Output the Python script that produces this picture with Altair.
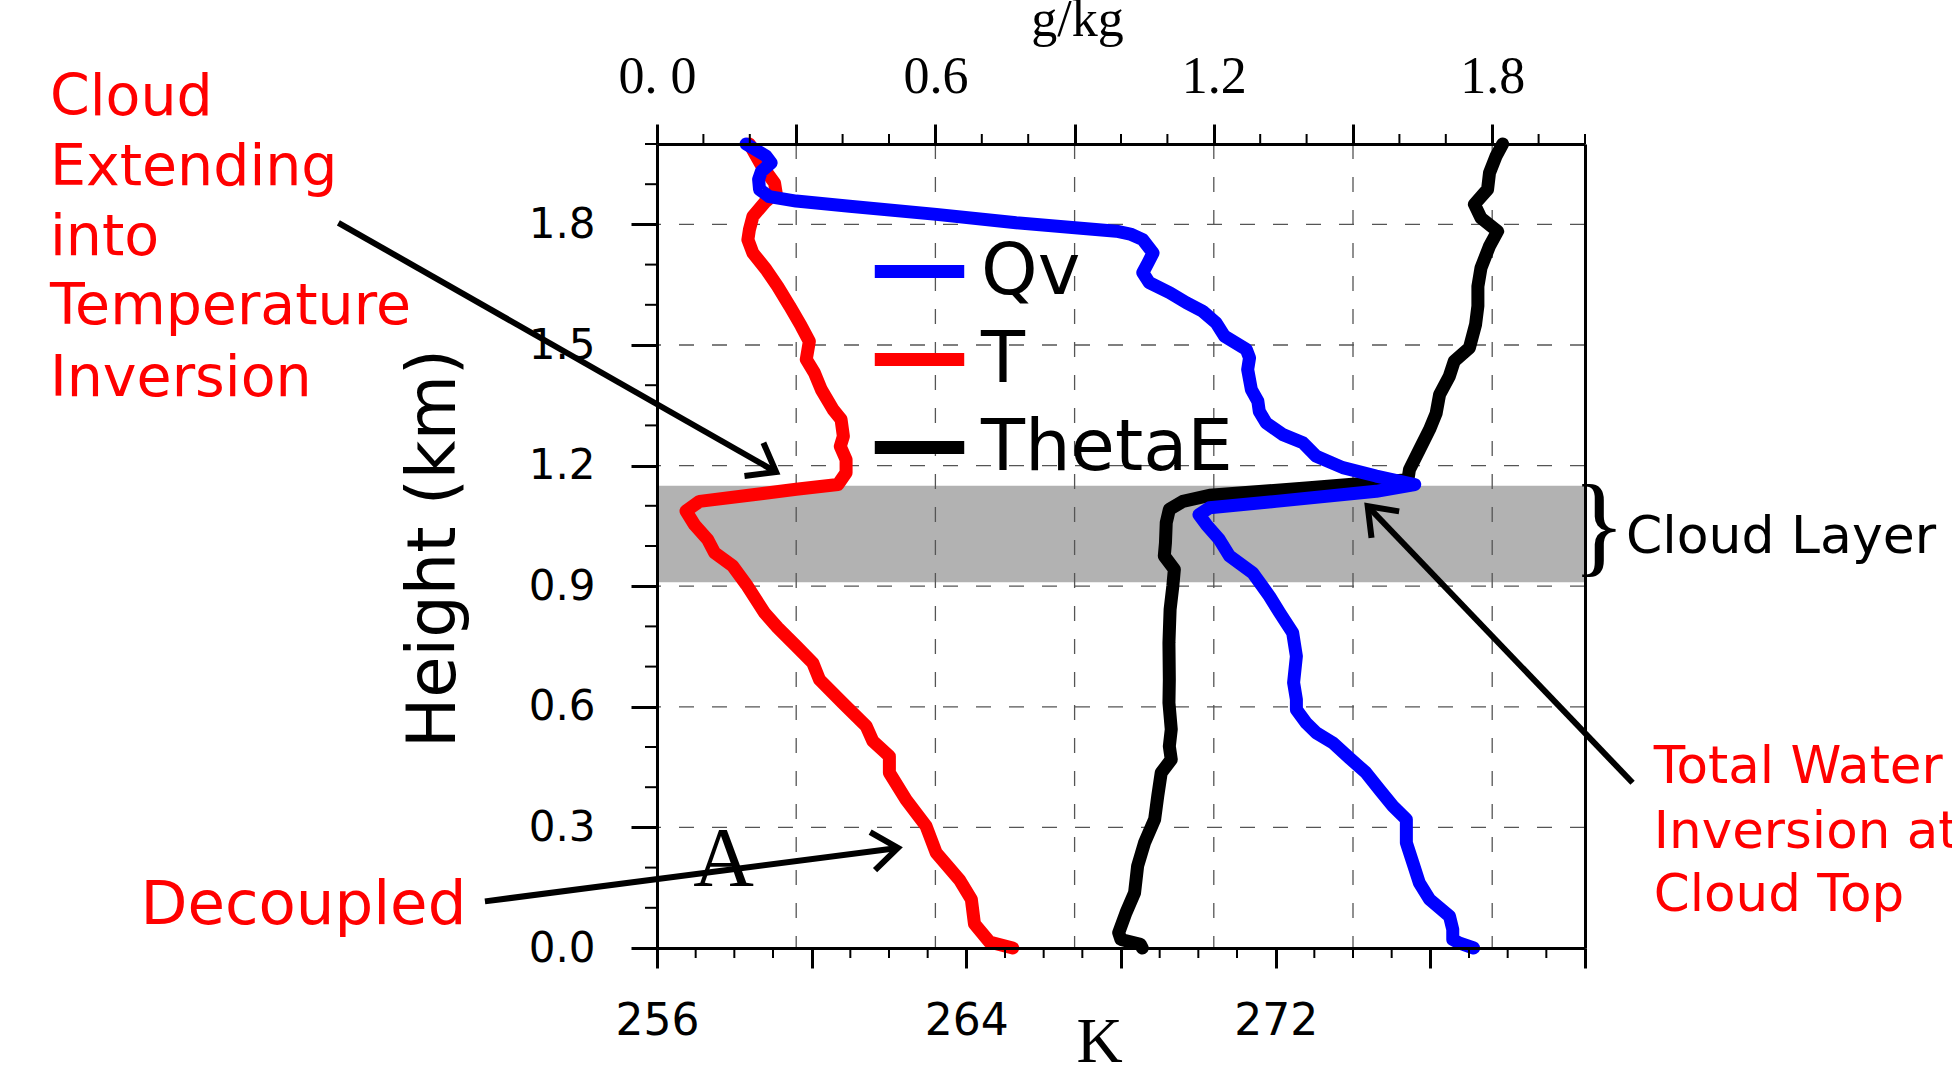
import math
import altair as alt
import pandas as pd

# ---------------- layout ----------------
W, H = 928, 804
K_DOMAIN = [256, 280]
G_DOMAIN = [0.0, 2.0]
KM_DOMAIN = [0.0, 2.0]

# ---------------- profiles ----------------
t_km = [0.000, 0.015, 0.060, 0.121, 0.170, 0.237, 0.303, 0.369, 0.436, 0.477,
        0.515, 0.552, 0.610, 0.668, 0.709, 0.751, 0.797, 0.834, 0.904, 0.950,
        0.983, 1.016, 1.053, 1.087, 1.111, 1.141, 1.153, 1.182, 1.215, 1.248,
        1.273, 1.315, 1.340, 1.389, 1.431, 1.464, 1.509, 1.547, 1.597, 1.646,
        1.688, 1.729, 1.762, 1.787, 1.820, 1.854, 1.879, 1.903, 1.949, 2.000]
t_K = [265.20, 264.60, 264.21, 264.13, 263.82, 263.22, 262.96, 262.44, 262.01, 262.01,
       261.58, 261.41, 260.80, 260.20, 260.03, 259.60, 259.12, 258.78, 258.31, 257.96,
       257.49, 257.31, 256.97, 256.75, 257.10, 259.60, 260.68, 260.89, 260.89, 260.74,
       260.82, 260.76, 260.55, 260.25, 260.07, 259.86, 259.94, 259.73, 259.43, 259.12,
       258.82, 258.48, 258.35, 258.39, 258.48, 258.78, 259.08, 259.04, 258.69, 258.39]

thetae_km = [0.000, 0.009, 0.021, 0.038, 0.088, 0.137, 0.204, 0.262, 0.320, 0.378,
             0.436, 0.469, 0.502, 0.544, 0.610, 0.668, 0.759, 0.842, 0.900, 0.942,
             0.975, 1.008, 1.058, 1.091, 1.111, 1.126, 1.145, 1.165, 1.190, 1.240,
             1.290, 1.330, 1.377, 1.422, 1.460, 1.493, 1.551, 1.597, 1.646, 1.692,
             1.746, 1.783, 1.816, 1.850, 1.887, 1.928, 1.970, 2.000]
thetae_K = [268.55, 268.50, 268.00, 267.94, 268.13, 268.35, 268.43, 268.61, 268.87, 268.95,
            269.04, 269.30, 269.25, 269.30, 269.24, 269.25, 269.24, 269.27, 269.34, 269.38,
            269.12, 269.15, 269.17, 269.25, 269.60, 270.29, 272.87, 275.42, 275.46, 275.72,
            275.98, 276.15, 276.24, 276.49, 276.62, 277.01, 277.17, 277.23, 277.23, 277.31,
            277.53, 277.74, 277.31, 277.14, 277.48, 277.53, 277.70, 277.87]

qv_km = [0.000, 0.012, 0.021, 0.046, 0.079, 0.121, 0.162, 0.212, 0.262, 0.320,
         0.353, 0.394, 0.436, 0.473, 0.510, 0.535, 0.560, 0.593, 0.618, 0.660,
         0.726, 0.784, 0.834, 0.875, 0.933, 0.975, 1.016, 1.053, 1.078, 1.095,
         1.111, 1.136, 1.153, 1.174, 1.195, 1.223, 1.257, 1.277, 1.306, 1.335,
         1.360, 1.389, 1.439, 1.468, 1.489, 1.522, 1.555, 1.584, 1.605, 1.630,
         1.655, 1.680, 1.704, 1.729, 1.762, 1.776, 1.783, 1.790, 1.804, 1.825,
         1.845, 1.858, 1.869, 1.887, 1.912, 1.932, 1.953, 1.970, 2.000]
qv_gkg = [1.760, 1.730, 1.715, 1.715, 1.708, 1.665, 1.643, 1.629, 1.615, 1.615,
          1.586, 1.557, 1.528, 1.492, 1.457, 1.421, 1.399, 1.378, 1.378, 1.372,
          1.378, 1.370, 1.342, 1.320, 1.284, 1.234, 1.212, 1.184, 1.168, 1.191,
          1.334, 1.550, 1.633, 1.550, 1.478, 1.421, 1.392, 1.349, 1.313, 1.298,
          1.295, 1.281, 1.273, 1.277, 1.270, 1.223, 1.205, 1.176, 1.141, 1.105,
          1.061, 1.047, 1.058, 1.069, 1.047, 1.020, 0.990, 0.920, 0.774, 0.602,
          0.415, 0.300, 0.242, 0.221, 0.219, 0.225, 0.246, 0.235, 0.192]

series_names = ["Qv", "T", "ThetaE"]
series_colors = ["#0000ff", "#ff0000", "#000000"]

cloud_layer_km = [0.91, 1.15]

# ---------------- ticks ----------------
k_major = [256, 260, 264, 268, 272, 276, 280]
k_minor = [257, 258, 259, 261, 262, 263, 265, 266, 267, 269, 270, 271,
           273, 274, 275, 277, 278, 279]
g_major = [0.0, 0.3, 0.6, 0.9, 1.2, 1.5, 1.8]
g_minor = [0.1, 0.2, 0.4, 0.5, 0.7, 0.8, 1.0, 1.1, 1.3, 1.4, 1.6, 1.7, 1.9, 2.0]
km_major = [0.0, 0.3, 0.6, 0.9, 1.2, 1.5, 1.8]
km_minor = [0.1, 0.2, 0.4, 0.5, 0.7, 0.8, 1.0, 1.1, 1.3, 1.4, 1.6, 1.7, 1.9, 2.0]

# ---------------- annotations (in K / km units) ----------------
left_note = ["Cloud", "Extending", "into", "Temperature", "Inversion"]
left_note_K = 240.3
left_note_km = [2.073, 1.899, 1.725, 1.551, 1.372]

right_note = ["Total Water", "Inversion at", "Cloud Top"]
right_note_K = 281.78
right_note_km = [0.411, 0.249, 0.0915]

decoupled_note = ["Decoupled"]
decoupled_K = [242.64]
decoupled_km = [0.0585]

arrow_from_K = [247.76, 251.55, 281.23]
arrow_from_km = [1.804, 0.116, 0.411]
arrow_to_K = [259.08, 262.23, 274.38]
arrow_to_km = [1.184, 0.249, 1.099]

# ---------------- data tables ----------------
prof_K = pd.DataFrame({
    "var": ["T"] * len(t_km) + ["ThetaE"] * len(thetae_km),
    "km": t_km + thetae_km,
    "val": t_K + thetae_K,
    "idx": list(range(len(t_km))) + list(range(len(thetae_km))),
})
prof_q = pd.DataFrame({"var": ["Qv"] * len(qv_km), "km": qv_km, "val": qv_gkg,
                       "idx": list(range(len(qv_km)))})

kscale = alt.Scale(domain=K_DOMAIN)
gscale = alt.Scale(domain=G_DOMAIN)
yscale = alt.Scale(domain=KM_DOMAIN)


def xk(field):
    return alt.X(field, type="quantitative", scale=kscale, axis=None)


def yk(field):
    return alt.Y(field, type="quantitative", scale=yscale, axis=None)


legend = alt.Legend(title=None, orient="none", legendX=211, legendY=76,
                    symbolType="stroke", symbolStrokeWidth=13, symbolSize=8000,
                    labelFont="DejaVu Sans", labelFontSize=72, labelColor="black",
                    labelOffset=10, labelLimit=0, rowPadding=0, padding=0, zindex=1)
color = alt.Color("var:N", scale=alt.Scale(domain=series_names, range=series_colors),
                  legend=legend)

# cloud band
band = alt.Chart(pd.DataFrame({"k0": [K_DOMAIN[0]], "k1": [K_DOMAIN[1]],
                               "km": [cloud_layer_km[0]], "km_top": [cloud_layer_km[1]]})
                 ).mark_rect(color="#b2b2b2").encode(
    x=xk("k0"), x2="k1", y=yk("km"), y2="km_top")

grid_style = dict(color="#555555", strokeWidth=1.3, strokeDash=[15, 18])
vgrid = alt.Chart(pd.DataFrame({"g": g_major[1:]})).mark_rule(**grid_style).encode(
    x=alt.X("g:Q", scale=gscale, axis=None))
hgrid = alt.Chart(pd.DataFrame({"km": km_major[1:]})).mark_rule(**grid_style).encode(
    y=alt.Y("km:Q", scale=yscale,
            axis=alt.Axis(orient="right", labels=False, ticks=False, grid=False,
                          domain=True, domainColor="black", domainWidth=3,
                          title="", zindex=1)))

line_style = dict(strokeWidth=13, strokeCap="round", strokeJoin="round")

bottom_axis = alt.Axis(
    orient="bottom", values=k_major, tickSize=20, tickWidth=3, tickColor="black",
    domainColor="black", domainWidth=3, grid=False, zindex=1,
    labelExpr="((datum.value - 256) % 8 == 0 && datum.value < 280) ? datum.label : ''",
    labelFont="DejaVu Sans", labelFontSize=44, labelColor="black", labelPadding=31,
    labelFlush=False, labelOverlap=False,
    title="K", titleFont="Liberation Serif", titleFontSize=64, titleFontWeight="normal",
    titleColor="black", titleX=442, titleY=113, titleBaseline="alphabetic",
    titleAlign="center")

left_axis = alt.Axis(
    orient="left", values=km_major, tickSize=26, tickWidth=3, tickColor="black",
    domainColor="black", domainWidth=3, grid=False, zindex=1,
    labelExpr="format(datum.value, '.1f')",
    labelFont="DejaVu Sans", labelFontSize=42, labelColor="black", labelPadding=36,
    labelFlush=False, labelOverlap=False,
    title="Height (km)", titleFont="DejaVu Sans", titleFontSize=67,
    titleFontWeight="normal", titleColor="black", titleAngle=270, titleX=-203,
    titleY=404, titleBaseline="alphabetic", titleAlign="center")

top_axis = alt.Axis(
    orient="top", values=g_major, tickSize=20, tickWidth=3, tickColor="black",
    domainColor="black", domainWidth=3, grid=False, zindex=1,
    labelExpr="datum.value == 0 ? '0. 0' : (round(datum.value * 10) % 6 == 0 ? format(datum.value, '.1f') : '')",
    labelFont="Liberation Serif", labelFontSize=52, labelColor="black", labelPadding=21,
    labelFlush=False, labelOverlap=False,
    title="g/kg", titleFont="Liberation Serif", titleFontSize=52, titleFontWeight="normal",
    titleColor="black", titleX=420, titleY=-109, titleBaseline="alphabetic",
    titleAlign="center")

lines_K = alt.Chart(prof_K).mark_line(**line_style).encode(
    x=alt.X("val:Q", scale=kscale, axis=bottom_axis),
    y=alt.Y("km:Q", scale=yscale, axis=left_axis),
    color=color, order=alt.Order("idx:Q"))

lines_q = alt.Chart(prof_q).mark_line(**line_style).encode(
    x=alt.X("val:Q", scale=gscale, axis=top_axis),
    y=yk("km:Q"),
    color=color, order=alt.Order("idx:Q"))

# minor ticks
left_minor = alt.Chart(pd.DataFrame({"km": km_minor})).mark_rule(color="black", strokeWidth=2).encode(
    y=yk("km:Q"), x=alt.value(-12), x2=alt.value(0))
top_minor = alt.Chart(pd.DataFrame({"g": g_minor})).mark_rule(color="black", strokeWidth=2).encode(
    x=alt.X("g:Q", scale=gscale, axis=None), y=alt.value(-10), y2=alt.value(0))
bottom_minor = alt.Chart(pd.DataFrame({"k": k_minor})).mark_rule(color="black", strokeWidth=2).encode(
    x=xk("k:Q"), y=alt.value(H), y2=alt.value(H + 10))


def text_layer(texts, ks, kms, color, font, size, align="left", dx=0):
    df = pd.DataFrame({"text": texts, "k": ks, "km": kms})
    return alt.Chart(df).mark_text(align=align, baseline="alphabetic", font=font,
                                   fontSize=size, color=color, dx=dx).encode(
        x=xk("k:Q"), y=yk("km:Q"), text="text:N")


t_left = text_layer(left_note, [left_note_K] * len(left_note), left_note_km,
                    "#ff0000", "DejaVu Sans", 57)
t_right = text_layer(right_note, [right_note_K] * len(right_note), right_note_km,
                     "#ff0000", "DejaVu Sans", 51.5)
t_dec = text_layer(decoupled_note, decoupled_K, decoupled_km, "#ff0000", "DejaVu Sans", 61)
t_A = text_layer(["A"], [257.72], [0.153], "black", "Liberation Serif", 84, align="center")
t_brace = text_layer(["}"], [K_DOMAIN[1]], [0.961], "black", "Liberation Serif", 112, dx=-13)
t_cloud = text_layer(["Cloud Layer"], [281.06], [0.983], "black", "DejaVu Sans", 52)

# arrows
px_per_K = W / (K_DOMAIN[1] - K_DOMAIN[0])
px_per_km = H / (KM_DOMAIN[1] - KM_DOMAIN[0])
angles = []
for k1, y1, k2, y2 in zip(arrow_from_K, arrow_from_km, arrow_to_K, arrow_to_km):
    dxp = (k2 - k1) * px_per_K
    dyp = -(y2 - y1) * px_per_km
    angles.append(math.degrees(math.atan2(dyp, dxp)) % 360)

arrow_df = pd.DataFrame({"k1": arrow_from_K, "km1": arrow_from_km,
                         "k2": arrow_to_K, "km2": arrow_to_km, "ang": angles})
shafts = alt.Chart(arrow_df).mark_rule(color="black", strokeWidth=6).encode(
    x=xk("k1:Q"), y=yk("km1:Q"), x2="k2:Q", y2="km2:Q")
heads = alt.Chart(arrow_df).mark_point(
    shape="M -1 -0.75 L 0 0 L -1 0.75", filled=False, stroke="black", strokeWidth=6,
    size=2600, opacity=1, strokeJoin="miter").encode(
    x=xk("k2:Q"), y=yk("km2:Q"), angle=alt.Angle("ang:Q", scale=None))

chart = alt.layer(
    band, vgrid, hgrid, lines_K, lines_q, left_minor, top_minor, bottom_minor,
    shafts, heads, t_left, t_right, t_dec, t_A, t_brace, t_cloud
).resolve_scale(x="independent").resolve_axis(x="independent", y="independent").properties(
    width=W, height=H,
    padding={"left": 657, "top": 144, "right": 367, "bottom": 122},
    autosize=alt.AutoSizeParams(type="none"),
    background="white",
).configure_view(strokeWidth=0)

chart.save("out.html", embed_options={"renderer": "svg", "actions": False})
